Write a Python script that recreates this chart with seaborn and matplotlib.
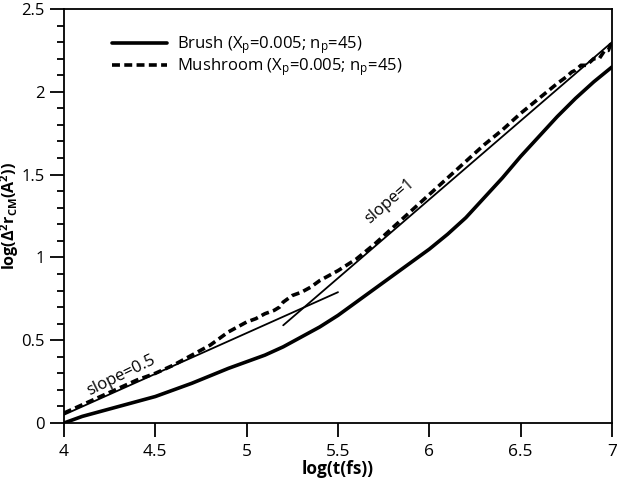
import matplotlib
matplotlib.use("Agg")
import matplotlib.pyplot as plt
import pandas as pd
import seaborn as sns

# brush (solid)
brush_x = [4.0, 4.1, 4.2, 4.3, 4.4, 4.5, 4.6, 4.7, 4.8, 4.9, 5.0, 5.1, 5.2, 5.3, 5.4,
           5.5, 5.6, 5.7, 5.8, 5.9, 6.0, 6.1, 6.2, 6.3, 6.4, 6.5, 6.6, 6.7, 6.8, 6.9, 7.0]
brush_y = [0.0, 0.04, 0.07, 0.10, 0.13, 0.16, 0.20, 0.24, 0.285, 0.33, 0.37, 0.41, 0.46, 0.52, 0.58,
           0.65, 0.73, 0.81, 0.89, 0.97, 1.05, 1.14, 1.24, 1.36, 1.48, 1.61, 1.73, 1.85, 1.96, 2.06, 2.15]

# mushroom (dashed)
mush_x = [4.0, 4.1, 4.2, 4.3, 4.4, 4.5, 4.6, 4.7, 4.8, 4.9, 5.0, 5.05, 5.1, 5.15, 5.18, 5.2,
          5.25, 5.3, 5.35, 5.4, 5.5, 5.6, 5.7, 5.8, 5.9, 6.0, 6.1, 6.2, 6.3, 6.4, 6.5, 6.6,
          6.7, 6.75, 6.78, 6.8, 6.83, 6.86, 6.9, 6.93, 6.96, 6.98, 7.0]
mush_y = [0.06, 0.11, 0.16, 0.21, 0.26, 0.30, 0.35, 0.41, 0.47, 0.55, 0.61, 0.63, 0.66, 0.68, 0.70, 0.73,
          0.77, 0.79, 0.82, 0.86, 0.92, 0.99, 1.08, 1.18, 1.28, 1.38, 1.48, 1.58, 1.68, 1.77, 1.87, 1.96,
          2.05, 2.09, 2.12, 2.13, 2.16, 2.16, 2.20, 2.20, 2.25, 2.25, 2.31]

# guide lines
slope05_x = [4.0, 5.5]
slope05_y = [0.05, 0.79]
slope1_x = [5.2, 7.0]
slope1_y = [0.59, 2.30]

sns.set_style("ticks")
plt.rcParams['font.family'] = ['Open Sans', 'DejaVu Sans']
plt.rcParams['mathtext.default'] = 'regular'
plt.rcParams['text.color'] = 'black'
plt.rcParams['axes.labelcolor'] = 'black'

fig = plt.figure(figsize=(6.19, 4.87), dpi=100)
ax = fig.add_axes([0.1034, 0.1314, 0.8853, 0.8501])

df_b = pd.DataFrame({"x": brush_x, "y": brush_y})
df_m = pd.DataFrame({"x": mush_x, "y": mush_y})

sns.lineplot(data=df_b, x="x", y="y", ax=ax, color="black", lw=2.6,
             label="Brush (X$_p$=0.005; n$_p$=45)")
sns.lineplot(data=df_m, x="x", y="y", ax=ax, color="black", lw=2.6,
             linestyle=(0, (2.2, 1.2)), label="Mushroom (X$_p$=0.005; n$_p$=45)")
ax.plot(slope05_x, slope05_y, color="black", lw=1.3)
ax.plot(slope1_x, slope1_y, color="black", lw=1.3)

ax.text(4.31, 0.285, "slope=0.5", rotation=26, ha="center", va="center", fontsize=12)
ax.text(5.78, 1.34, "slope=1", rotation=41, ha="center", va="center", fontsize=12)

ax.set_xlim(4, 7)
ax.set_ylim(0, 2.5)
ax.set_xticks([4, 4.5, 5, 5.5, 6, 6.5, 7])
ax.set_xticklabels(["4", "4.5", "5", "5.5", "6", "6.5", "7"])
ax.set_yticks([0, 0.5, 1, 1.5, 2, 2.5])
ax.set_yticklabels(["0", "0.5", "1", "1.5", "2", "2.5"])
ax.set_yticks([i / 10 for i in range(26)], minor=True)
ax.tick_params(axis="both", which="major", direction="out", length=10, width=1.3,
               colors="black", labelsize=12.5, pad=5)
ax.tick_params(axis="y", which="major", pad=4, labelsize=12)
ax.tick_params(axis="y", which="minor", direction="out", length=5, width=1.3, colors="black")

for s in ax.spines.values():
    s.set_visible(True)
    s.set_color("black")
    s.set_linewidth(1.3)

ax.set_xlabel("log(t(fs))", fontsize=12.5, fontweight="bold", labelpad=0)
ax.set_ylabel("log(Δ$^2$r$_{CM}$(A$^2$))", fontsize=11.5, fontweight="bold")
ax.yaxis.set_label_coords(-0.078, 0.5)

ax.legend(loc="upper left", bbox_to_anchor=(0.06, 0.975), frameon=False, fontsize=12,
          handlelength=3.3, handletextpad=0.6, labelspacing=0.0)

plt.savefig("out.png", dpi=100)
